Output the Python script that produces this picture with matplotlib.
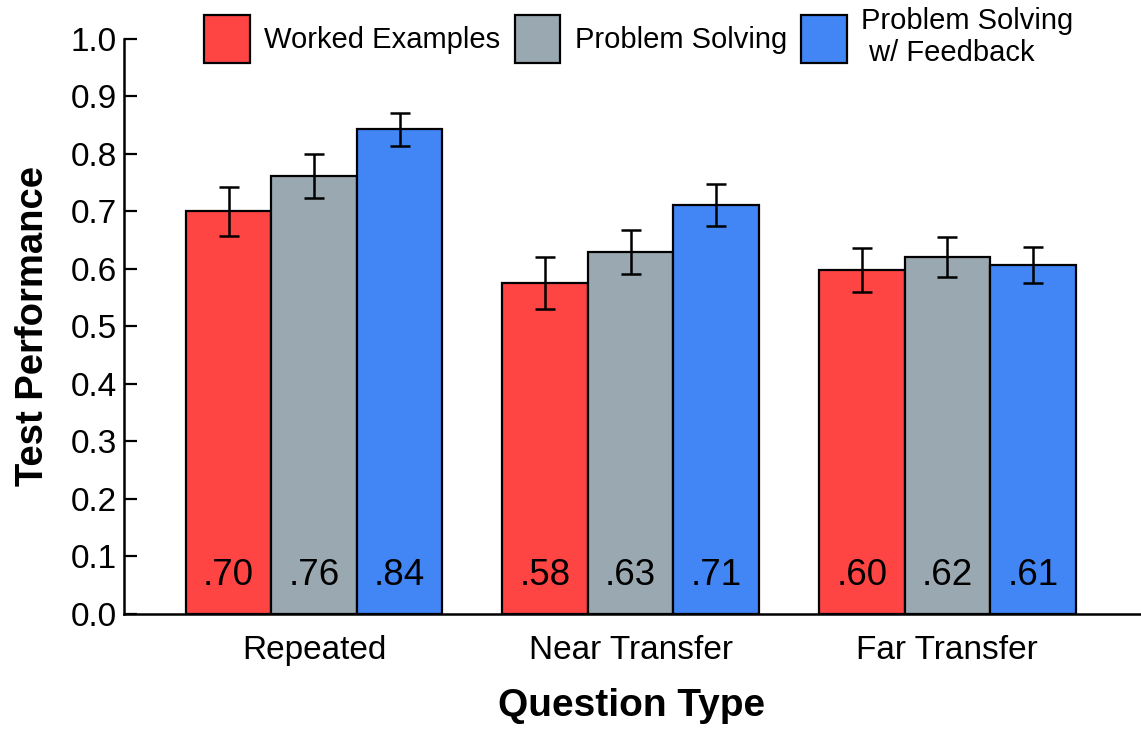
import numpy as np
import matplotlib
matplotlib.use("Agg")
import matplotlib.pyplot as plt

plt.rcParams['font.family'] = ['Liberation Sans', 'DejaVu Sans']

# data
question_types = ["Repeated", "Near Transfer", "Far Transfer"]
conditions = ["Worked Examples", "Problem Solving", "Problem Solving\n w/ Feedback"]
worked = [0.70, 0.575, 0.598]
solving = [0.762, 0.630, 0.621]
feedback = [0.843, 0.711, 0.607]
worked_err = [0.042, 0.045, 0.038]
solving_err = [0.038, 0.038, 0.035]
feedback_err = [0.029, 0.037, 0.032]
bar_labels = [[".70", ".58", ".60"], [".76", ".63", ".62"], [".84", ".71", ".61"]]
colors = ["#FF4444", "#9AA8B1", "#4285F4"]

fig = plt.figure(figsize=(11.41, 7.29), dpi=100)
ax = fig.add_axes([0.1087, 0.158, 0.890, 0.7885])

x = np.arange(len(question_types))
w = 0.27
series = [worked, solving, feedback]
errs = [worked_err, solving_err, feedback_err]
for i, (vals, err, col, lab) in enumerate(zip(series, errs, colors, conditions)):
    pos = x + (i - 1) * w
    ax.bar(pos, vals, width=w, color=col, edgecolor="black", linewidth=1.6, label=lab, zorder=2)
    ax.errorbar(pos, vals, yerr=err, fmt="none", ecolor="black", elinewidth=1.8,
                capsize=7.5, capthick=1.8, zorder=3)
    # value printed near the bottom of each bar
    for p, t in zip(pos, bar_labels[i]):
        ax.text(p, 0.067, t, ha="center", va="center", fontsize=26.5, zorder=4)

ax.set_xlim(-0.60, 2.607)
ax.set_ylim(0, 1.0)
ax.set_yticks(np.arange(0, 1.01, 0.1))
ax.set_yticklabels([f"{v:.1f}" for v in np.arange(0, 1.01, 0.1)], fontsize=24)
ax.set_xticks(x)
ax.set_xticklabels(question_types, fontsize=24)
ax.tick_params(axis="y", direction="in", length=9.5, width=1.6, pad=5)
ax.tick_params(axis="x", length=0, pad=15)

for s in ["top", "right"]:
    ax.spines[s].set_visible(False)
for s in ["left", "bottom"]:
    ax.spines[s].set_linewidth(1.8)

ax.set_ylabel("Test Performance", fontsize=27.5, fontweight="bold", labelpad=14)
ax.set_xlabel("Question Type", fontsize=28, fontweight="bold", labelpad=16)

leg = ax.legend(loc="center", bbox_to_anchor=(0.507, 1.003), ncol=3, frameon=False,
                fontsize=21, handlelength=1.55, handleheight=2.15, columnspacing=0.5,
                handletextpad=0.5, borderpad=0.2)

fig.savefig("out.png", dpi=100)
